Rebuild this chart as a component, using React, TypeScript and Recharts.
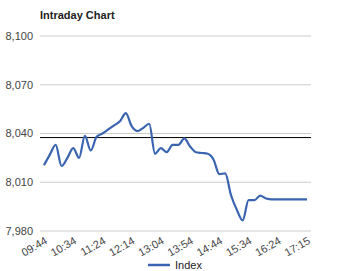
import React from 'react';
import { LineChart, Line, XAxis, YAxis, CartesianGrid, ReferenceLine, Legend } from 'recharts';

const times = [
  '09:44', '09:54', '10:04', '10:14', '10:24', '10:34', '10:44', '10:54', '11:04', '11:14',
  '11:24', '11:34', '11:44', '11:54', '12:04', '12:14', '12:24', '12:34', '12:44', '12:54',
  '13:04', '13:14', '13:24', '13:34', '13:44', '13:54', '14:04', '14:14', '14:24', '14:34',
  '14:44', '14:54', '15:04', '15:14', '15:24', '15:34', '15:44', '15:54', '16:04', '16:14',
  '16:24', '16:34', '16:44', '16:54', '17:04', '17:15',
];

const indexValues = [
  8020.5, 8027, 8033, 8020, 8025, 8031, 8025, 8038.5, 8029.5, 8038,
  8040, 8042.5, 8045, 8047.5, 8052.5, 8044.5, 8041.5, 8043.5, 8046, 8027.5,
  8031, 8028.5, 8033, 8033, 8037, 8032, 8028.5, 8028, 8027.5, 8024,
  8015, 8015.5, 8002, 7993, 7986.5, 7999, 7999, 8001.8, 8000, 7999.5,
  7999.5, 7999.5, 7999.5, 7999.5, 7999.5, 7999.5,
];

const yTicks = [7980, 8010, 8040, 8070, 8100];
const referenceValue = 8037.5;
const title = 'Intraday Chart';
const seriesName = 'Index';

const data = times.map((t, i) => ({ time: t, value: indexValues[i] }));

const FONT = "Arial, 'Liberation Sans', sans-serif";
const LINE_COLOR = '#3a64b0';

const XTick = (props: any) => {
  const { x, y, payload } = props;
  return (
    <text
      x={x + 4}
      y={y + 4}
      transform={`rotate(-30, ${x + 4}, ${y + 4})`}
      textAnchor="end"
      fontSize={11}
      fill="#444"
      fontFamily={FONT}
    >
      {payload.value}
    </text>
  );
};

const LegendContent = () => (
  <div
    style={{
      display: 'flex',
      justifyContent: 'center',
      alignItems: 'center',
      height: 12,
      fontSize: 11,
      color: '#222',
      fontFamily: FONT,
      lineHeight: '12px',
    }}
  >
    <svg width={22} height={4} style={{ display: 'block' }}>
      <line x1={0} y1={2} x2={22} y2={2} stroke={LINE_COLOR} strokeWidth={2.5} />
    </svg>
    <span style={{ marginLeft: 5 }}>{seriesName}</span>
  </div>
);

export default function App() {
  return (
    <div style={{ position: 'absolute', left: 0, top: 0, width: 350, height: 271, background: '#fff', fontFamily: FONT }}>
      <div
        style={{
          position: 'absolute',
          left: 40,
          top: 10,
          fontSize: 11,
          lineHeight: '11px',
          fontWeight: 'bold',
          color: '#222',
          zIndex: 2,
        }}
      >
        {title}
      </div>
      <LineChart width={350} height={271} data={data} margin={{ top: 36, right: 39, left: 0, bottom: 0 }}>
        <CartesianGrid vertical={false} stroke="#cccccc" />
        <XAxis
          dataKey="time"
          interval={4}
          tickLine={false}
          axisLine={false}
          height={28}
          padding={{ left: 4, right: 4 }}
          tick={<XTick />}
        />
        <YAxis
          width={40}
          domain={[7980, 8100]}
          ticks={yTicks}
          tickLine={false}
          axisLine={false}
          tickMargin={1}
          tickFormatter={(v: number) => v.toLocaleString('en-US')}
          tick={{ fontSize: 11, fill: '#444', fontFamily: FONT }}
        />
        <ReferenceLine y={referenceValue} stroke="#000" strokeWidth={1} />
        <Line
          type="monotone"
          dataKey="value"
          name={seriesName}
          stroke={LINE_COLOR}
          strokeWidth={2.2}
          dot={false}
          isAnimationActive={false}
        />
        <Legend
          verticalAlign="bottom"
          content={<LegendContent />}
          wrapperStyle={{ left: 0, width: 350, bottom: 0 }}
        />
      </LineChart>
    </div>
  );
}
